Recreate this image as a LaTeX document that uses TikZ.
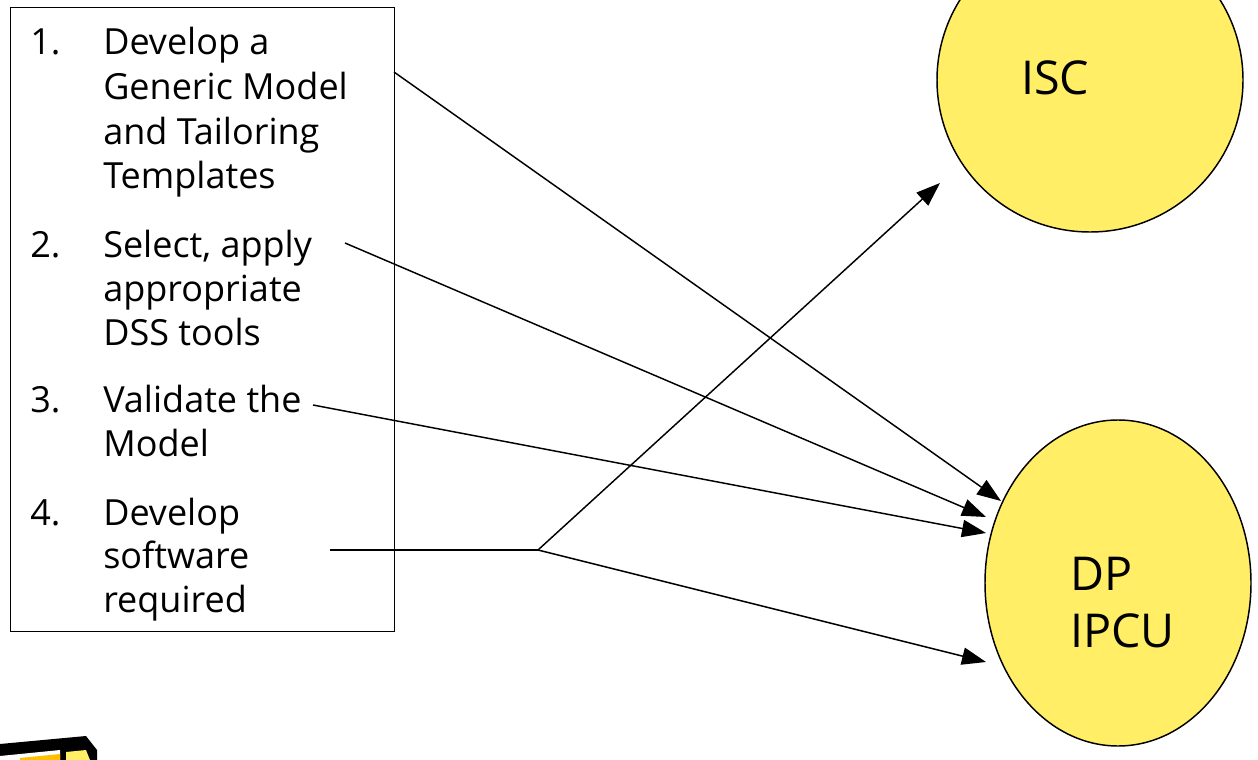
\documentclass[tikz,border=0pt]{standalone}
\usepackage{fontspec}
\setmainfont{Open Sans}
\usetikzlibrary{shapes.geometric,arrows.meta}
\definecolor{sunny}{HTML}{FFEE66}
\definecolor{pad}{HTML}{FFC000}
\tikzset{
  itemtext/.style={anchor=base west,inner sep=0pt,font=\fontsize{27}{31}\selectfont},
  conn/.style={line width=1.1pt},
  arr/.style={conn,-{Triangle[length=18pt,width=13pt]}},
  blob/.style={ellipse,draw=black,line width=1.1pt,fill=sunny,inner sep=0pt},
  blobtext/.style={inner sep=0pt,anchor=base west,font=\fontsize{35}{40}\selectfont}
}
\begin{document}
\begin{tikzpicture}[x=0.75pt,y=-0.75pt]
\useasboundingbox (0,0) rectangle (1258,760);
\clip (0,0) rectangle (1258,760);
% list box
\node[draw=black,line width=1.1pt,minimum width=384*0.75pt,minimum height=624*0.75pt,anchor=north west,inner sep=0pt] (box) at (10,7) {};
% numbers
\node[itemtext] (n1) at (30,55) {1.};
\node[itemtext] (n2) at (30,257) {2.};
\node[itemtext] (n3) at (30,412) {3.};
\node[itemtext] (n4) at (30,525) {4.};
% item 1
\node[itemtext] (t1a) at (103,55) {Develop a};
\node[itemtext] (t1b) at (103,99) {Generic Model};
\node[itemtext] (t1c) at (103,144) {and Tailoring};
\node[itemtext] (t1d) at (103,188) {Templates};
% item 2
\node[itemtext] (t2a) at (103,257) {Select, apply};
\node[itemtext] (t2b) at (103,301) {appropriate};
\node[itemtext] (t2c) at (103,345) {DSS tools};
% item 3
\node[itemtext] (t3a) at (103,412) {Validate the};
\node[itemtext] (t3b) at (103,456) {Model};
% item 4
\node[itemtext] (t4a) at (103,525) {Develop};
\node[itemtext] (t4b) at (103,568) {software};
\node[itemtext] (t4c) at (103,612) {required};
% ellipses
\node[blob,minimum width=306*0.75pt,minimum height=304*0.75pt] (isc) at (1090,80) {};
\node[blobtext] (isclabel) at (1021,94) {ISC};
\node[blob,minimum width=266*0.75pt,minimum height=326*0.75pt] (dp) at (1118,583) {};
\node[blobtext] (dplabel) at (1070,590) {DP};
\node[blobtext] (ipculabel) at (1070,647) {IPCU};
% connector points
\coordinate (s1) at (394,72);
\coordinate (s2) at (345,243);
\coordinate (s3) at (313,405);
\coordinate (s4) at (330,550);
\coordinate (fork) at (538,550);
\coordinate (e1) at (1001,501);
\coordinate (e2) at (986,517);
\coordinate (e3) at (986,533);
\coordinate (e4) at (986,662);
\coordinate (e5) at (940,183);
\draw[arr] (s1) -- (e1);
\draw[arr] (s2) -- (e2);
\draw[arr] (s3) -- (e3);
\draw[conn] (s4) -- (fork);
\draw[arr] (fork) -- (e5);
\draw[arr] (fork) -- (e4);
% notepad icon (clipped)
\fill[black] (0,744) -- (86,736) -- (97,750) -- (97,760) -- (0,760) -- cycle;
\fill[white] (0,756) -- (60,750) -- (60,760) -- (0,760) -- cycle;
\fill[pad] (20,758) -- (60,754) -- (60,760) -- (20,760) -- cycle;
\fill[sunny] (66,752) -- (86,750) -- (90,760) -- (66,760) -- cycle;
\end{tikzpicture}
\end{document}
